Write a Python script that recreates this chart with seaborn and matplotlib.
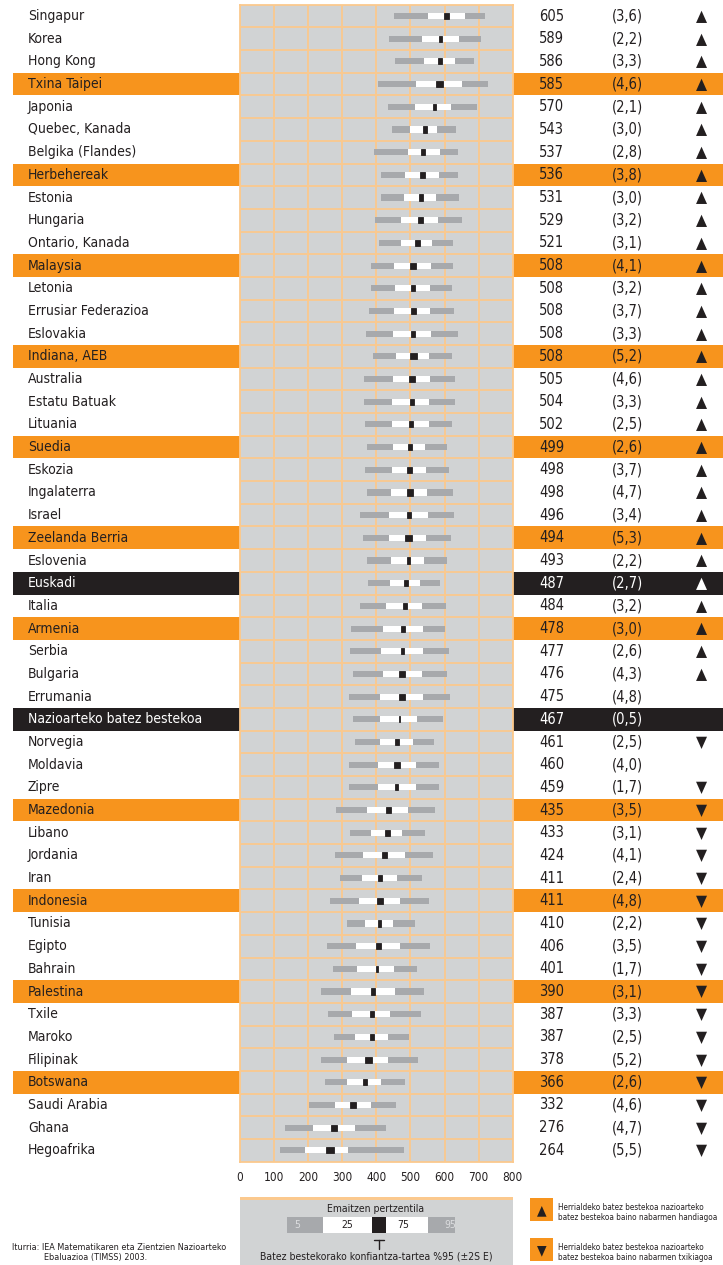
import numpy as np
import pandas as pd
import matplotlib
matplotlib.use("Agg")
import matplotlib.pyplot as plt
import seaborn as sns
from matplotlib import font_manager
from matplotlib.patches import Rectangle

# ---------------- data ----------------
countries = ["Singapur", "Korea", "Hong Kong", "Txina Taipei", "Japonia",
             "Quebec, Kanada", "Belgika (Flandes)", "Herbehereak", "Estonia", "Hungaria",
             "Ontario, Kanada", "Malaysia", "Letonia", "Errusiar Federazioa", "Eslovakia",
             "Indiana, AEB", "Australia", "Estatu Batuak", "Lituania", "Suedia",
             "Eskozia", "Ingalaterra", "Israel", "Zeelanda Berria", "Eslovenia",
             "Euskadi", "Italia", "Armenia", "Serbia", "Bulgaria",
             "Errumania", "Nazioarteko batez bestekoa", "Norvegia", "Moldavia", "Zipre",
             "Mazedonia", "Libano", "Jordania", "Iran", "Indonesia",
             "Tunisia", "Egipto", "Bahrain", "Palestina", "Txile",
             "Maroko", "Filipinak", "Botswana", "Saudi Arabia", "Ghana",
             "Hegoafrika"]

means = [605, 589, 586, 585, 570, 543, 537, 536, 531, 529, 521, 508, 508, 508, 508,
         508, 505, 504, 502, 499, 498, 498, 496, 494, 493, 487, 484, 478, 477, 476,
         475, 467, 461, 460, 459, 435, 433, 424, 411, 411, 410, 406, 401, 390, 387,
         387, 378, 366, 332, 276, 264]

se = [3.6, 2.2, 3.3, 4.6, 2.1, 3.0, 2.8, 3.8, 3.0, 3.2, 3.1, 4.1, 3.2, 3.7, 3.3,
      5.2, 4.6, 3.3, 2.5, 2.6, 3.7, 4.7, 3.4, 5.3, 2.2, 2.7, 3.2, 3.0, 2.6, 4.3,
      4.8, 0.5, 2.5, 4.0, 1.7, 3.5, 3.1, 4.1, 2.4, 4.8, 2.2, 3.5, 1.7, 3.1, 3.3,
      2.5, 5.2, 2.6, 4.6, 4.7, 5.5]

p5 = [452, 437, 455, 405, 434, 446, 393, 414, 414, 396, 408, 384, 384, 378, 369,
      390, 364, 364, 367, 372, 367, 372, 352, 361, 372, 375, 352, 326, 323, 332,
      320, 332, 338, 320, 320, 282, 323, 279, 294, 264, 314, 255, 273, 238, 258,
      276, 238, 250, 203, 132, 117]

p25 = [551, 534, 540, 516, 513, 499, 493, 484, 481, 472, 472, 452, 455, 452, 449,
       458, 449, 446, 446, 449, 446, 443, 437, 437, 443, 440, 429, 420, 414, 420,
       411, 411, 411, 405, 405, 373, 385, 361, 358, 349, 367, 341, 343, 326, 329,
       338, 314, 314, 279, 214, 191]

p75 = [660, 642, 631, 651, 619, 578, 587, 584, 575, 581, 563, 560, 557, 557, 560,
       554, 557, 554, 554, 543, 546, 549, 551, 546, 540, 528, 534, 537, 537, 534,
       537, 520, 508, 517, 517, 493, 476, 484, 461, 470, 449, 470, 452, 455, 440,
       434, 434, 414, 385, 338, 317]

p95 = [719, 707, 686, 727, 695, 634, 639, 639, 642, 651, 625, 625, 622, 628, 639,
       622, 630, 630, 622, 607, 613, 625, 628, 619, 607, 587, 605, 602, 614, 608,
       616, 596, 570, 584, 584, 572, 543, 567, 534, 555, 514, 558, 520, 540, 531,
       496, 523, 484, 458, 429, 481]

# significance vs. international average: "up", "down" or ""
signif = ["up"] * 30 + ["", "", "down", "", "down"] + ["down"] * 16

# row highlight: "" / "orange" / "black"
highlight = [""] * 51
for _i in [3, 7, 11, 15, 19, 23, 27, 35, 39, 43, 47]:
    highlight[_i] = "orange"
for _i in [25, 31]:
    highlight[_i] = "black"

xticks = [0, 100, 200, 300, 400, 500, 600, 700, 800]

# ---------------- style ----------------
sns.set_style("white")
avail = {f.name for f in font_manager.fontManager.ttflist}
if "Liberation Sans Narrow" in avail:
    plt.rcParams["font.family"] = ["Liberation Sans Narrow", "DejaVu Sans"]
else:
    plt.rcParams["font.family"] = ["DejaVu Sans"]
    plt.rcParams["font.stretch"] = "condensed"

TXT = "#231f20"
ORANGE = "#f7941d"
BLACK = "#231f20"
PANEL = "#d1d3d4"
BARG = "#a7a9ac"
GRIDC = "#fbc98e"

W, H = 723, 1265
fig = plt.figure(figsize=(W / 100, H / 100), dpi=100)

top_px, bot_px = 4.7, 1161.7
ax_bottom = 1 - bot_px / H
ax_height = (bot_px - top_px) / H
n = len(countries)

# background axes (row bands + table text), same vertical scale as the panel
ax_bg = fig.add_axes([0, ax_bottom, 1, ax_height])
ax_bg.set_xlim(0, W)
ax_bg.set_ylim(n - 0.5, -0.5)
ax_bg.axis("off")

for i, h in enumerate(highlight):
    if h:
        c = ORANGE if h == "orange" else BLACK
        ax_bg.barh(i, 240 - 12.5, left=12.5, height=1.0, color=c, linewidth=0)
        ax_bg.barh(i, W - 513, left=513, height=1.0, color=c, linewidth=0)

for i, name in enumerate(countries):
    col = "white" if highlight[i] == "black" else TXT
    ax_bg.text(28, i, name, va="center", ha="left", fontsize=10, color=col)
    ax_bg.text(539, i, f"{means[i]}", va="center", ha="left", fontsize=10.5, color=col)
    ax_bg.text(612, i, "(" + f"{se[i]:.1f}".replace(".", ",") + ")", va="center",
               ha="left", fontsize=10.5, color=col)
    if signif[i]:
        sym = "\u25B2" if signif[i] == "up" else "\u25BC"
        ax_bg.text(702, i + 0.02, sym, va="center", ha="center", fontsize=11.5,
                   color=col, family="DejaVu Sans")

# main panel
ax = fig.add_axes([240 / W, ax_bottom, 272.7 / W, ax_height])
df = pd.DataFrame({"country": countries, "mean": means, "se": se,
                   "p5": p5, "p25": p25, "p75": p75, "p95": p95})
df["outer"] = df["p95"] - df["p5"]
df["inner"] = df["p75"] - df["p25"]
df["ci_lo"] = df["mean"] - 2 * df["se"]
df["ci_w"] = 4 * df["se"]

common = dict(data=df, y="country", orient="y", order=countries, errorbar=None,
              saturation=1, width=0.27, ax=ax)
sns.barplot(x="outer", color=BARG, left=df["p5"].to_numpy(), linewidth=0, **common)
sns.barplot(x="inner", color="white", left=df["p25"].to_numpy(), linewidth=0, **common)
sns.barplot(x="ci_w", color=BLACK, left=df["ci_lo"].to_numpy(),
            edgecolor=BLACK, linewidth=0.6, **common)

ax.set_facecolor(PANEL)
ax.grid(False)
ax.set_xlim(0, 800)
ax.set_ylim(n - 0.5, -0.5)
for xv in xticks:
    ax.axvline(xv, color=GRIDC, lw=1.3, zorder=0.5)
for yb in np.arange(0.5, n - 0.5, 1.0):
    ax.axhline(yb, color=GRIDC, lw=1.3, zorder=0.5)
ax.set_xticks(xticks)
ax.set_xticklabels([str(v) for v in xticks])
ax.set_yticks([])
ax.set_xlabel("")
ax.set_ylabel("")
ax.tick_params(axis="x", length=0, pad=7, labelsize=8.5, colors=TXT)
for sp in ax.spines.values():
    sp.set_color(GRIDC)
    sp.set_linewidth(1.3)

# overlay in pixel coordinates for legend + source
ov = fig.add_axes([0, 0, 1, 1], zorder=5)
ov.set_xlim(0, W)
ov.set_ylim(H, 0)
ov.axis("off")

ov.add_patch(Rectangle((240, 1197), 272.7, 70, color=PANEL, lw=0))
ov.add_patch(Rectangle((240, 1196.5), 272.7, 3, color=GRIDC, lw=0))
ov.text(376, 1209, "Emaitzen pertzentila", ha="center", va="center", fontsize=7.5, color=TXT)
segs = [(287.3, 323.3, BARG), (323.3, 372.3, "white"), (372.3, 385.7, BLACK),
        (385.7, 428.3, "white"), (428.3, 455.3, BARG)]
for x0, x1, c in segs:
    ov.add_patch(Rectangle((x0, 1217.3), x1 - x0, 16, color=c, lw=0))
ov.text(297.5, 1225.3, "5", ha="center", va="center", fontsize=7.5, color="#dcdddf")
ov.text(347, 1225.3, "25", ha="center", va="center", fontsize=7.5, color=TXT)
ov.text(403, 1225.3, "75", ha="center", va="center", fontsize=7.5, color=TXT)
ov.text(450, 1225.3, "95", ha="center", va="center", fontsize=7.5, color="#dcdddf")
ov.plot([374, 384], [1239.5, 1239.5], color=TXT, lw=1)
ov.plot([379, 379], [1239.5, 1249], color=TXT, lw=1)
ov.text(376, 1256.5, "Batez bestekorako konfiantza-tartea %95 (\u00b12S E)", ha="center",
        va="center", fontsize=7.5, color=TXT)

for y0, sym, l1, l2 in [(1198, "\u25B2", "Herrialdeko batez bestekoa nazioarteko",
                         "batez bestekoa baino nabarmen handiagoa"),
                        (1238, "\u25BC", "Herrialdeko batez bestekoa nazioarteko",
                         "batez bestekoa baino nabarmen txikiagoa")]:
    ov.add_patch(Rectangle((530, y0), 23, 23, color=ORANGE, lw=0))
    ov.text(541.7, y0 + 11.8, sym, ha="center", va="center", fontsize=10,
            color=BLACK, family="DejaVu Sans")
    ov.text(558, y0 + 9.5, l1, ha="left", va="center", fontsize=5.9, color=TXT)
    ov.text(558, y0 + 19.5, l2, ha="left", va="center", fontsize=5.9, color=TXT)

ov.text(12, 1248, "Iturria: IEA Matematikaren eta Zientzien Nazioarteko", ha="left",
        va="center", fontsize=6.5, color=TXT)
ov.text(44, 1257.5, "Ebaluazioa (TIMSS) 2003.", ha="left", va="center", fontsize=6.5,
        color=TXT)

fig.savefig("out.png", dpi=100)
